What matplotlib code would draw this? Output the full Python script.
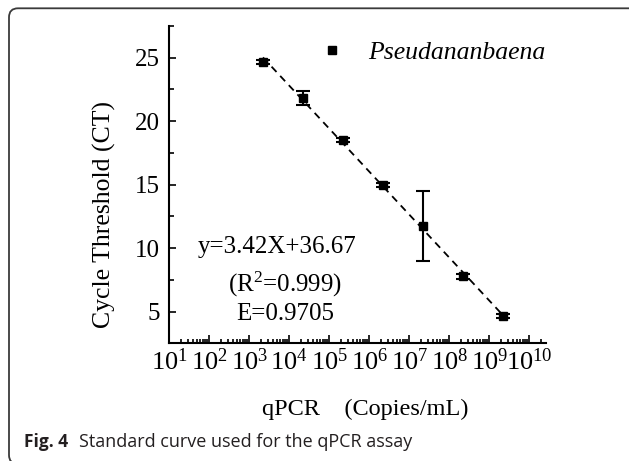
import numpy as np
import matplotlib
matplotlib.use("Agg")
import matplotlib.pyplot as plt
from matplotlib.lines import Line2D
from matplotlib.patches import FancyBboxPatch
from matplotlib.transforms import IdentityTransform
from matplotlib.ticker import MultipleLocator, LogLocator, NullFormatter, FixedLocator

# Standard-curve data: template copies per mL vs. mean cycle threshold (± SD)
copies = [2.2e3, 2.2e4, 2.2e5, 2.2e6, 2.2e7, 2.2e8, 2.2e9]
ct_mean = [24.65, 21.8, 18.5, 14.95, 11.75, 7.78, 4.65]
ct_sd = [0.15, 0.56, 0.15, 0.15, 2.78, 0.2, 0.12]

series_name = "Pseudananbaena"
fit_lines = ["y=3.42X+36.67", "(R$^{2}$=0.999)", "E=0.9705"]
x_label = "qPCR    (Copies/mL)"
y_label = "Cycle Threshold (CT)"
caption_bold = "Fig. 4"
caption_text = "Standard curve used for the qPCR assay"
x_decades = list(range(1, 11))
y_ticks = [5, 10, 15, 20, 25]

plt.rcParams["font.family"] = ["Liberation Serif", "DejaVu Serif"]
plt.rcParams["mathtext.fontset"] = "custom"
plt.rcParams["mathtext.rm"] = "Liberation Serif"
plt.rcParams["mathtext.it"] = "Liberation Serif:italic"
plt.rcParams["mathtext.bf"] = "Liberation Serif:bold"

W, H = 629, 461
fig = plt.figure(figsize=(W / 100, H / 100), dpi=100)


def fx(px):
    return px / W


def fy(py):
    return 1 - py / H


ax = fig.add_axes([fx(169.3), fy(343.3), fx(546) - fx(169.3), fy(26) - fy(343.3)])

# data with error bars
ax.errorbar(copies, ct_mean, yerr=ct_sd, fmt="s", color="black", ms=5.3,
            capsize=4.7, elinewidth=1.5, capthick=1.5, zorder=3)

# linear fit of Ct against log10(copies)
coef = np.polyfit(np.log10(copies), ct_mean, 1)
x_fit = np.array([copies[0], copies[-1]])
ax.plot(x_fit, np.polyval(coef, np.log10(x_fit)), color="black", lw=1.3,
        ls=(0, (4, 3)), zorder=2)

# axes
ax.set_xscale("log")
ax.set_xlim(10, 10 ** 10.42)
ax.set_ylim(2.5, 27.5)
ax.xaxis.set_major_locator(FixedLocator([10.0 ** d for d in x_decades]))
ax.xaxis.set_minor_locator(LogLocator(base=10, subs=np.arange(2, 10), numticks=50))
ax.xaxis.set_minor_formatter(NullFormatter())
ax.yaxis.set_major_locator(FixedLocator(y_ticks))
ax.yaxis.set_minor_locator(MultipleLocator(2.5))

for s in ("top", "right"):
    ax.spines[s].set_visible(False)
for s in ("left", "bottom"):
    ax.spines[s].set_linewidth(1.5)

ax.tick_params(axis="both", which="both", direction="in", width=1.2)
ax.tick_params(axis="y", which="major", length=5, labelsize=18, pad=7)
ax.tick_params(axis="y", which="minor", length=3.6)
ax.tick_params(axis="x", which="major", length=5.5, labelsize=19, pad=4)
ax.tick_params(axis="x", which="minor", length=3)

ax.set_ylabel(y_label, fontsize=18.5)
ax.yaxis.set_label_coords(-0.172, 0.405)
ax.yaxis.label.set_va("center")

ax.set_xlabel(x_label, fontsize=17.5)
ax.xaxis.set_label_coords(0.52, -0.226)
ax.xaxis.label.set_va("baseline")

# legend
proxy = Line2D([], [], marker="s", ls="none", color="black", ms=5.3)
ax.legend([proxy], [series_name], loc="center left",
          bbox_to_anchor=(fx(319.2), fy(52.3)), bbox_transform=fig.transFigure,
          frameon=False, borderpad=0, borderaxespad=0, handlelength=1.0,
          handletextpad=0.9, prop={"family": "Liberation Serif", "style": "italic", "size": 18.5})

# fit equation
for txt, cx, base in zip(fit_lines, [277, 285, 285], [253.3, 291.7, 320.0]):
    fig.text(fx(cx), fy(base), txt, ha="center", va="baseline", fontsize=18)

# rounded frame around the figure panel
frame = FancyBboxPatch((9, -3), 700, H - 8.3 + 3, boxstyle="round,pad=0,rounding_size=9",
                       transform=IdentityTransform(), fill=False, ec="#3a3a3a", lw=1.3)
fig.add_artist(frame)

# caption
fig.text(fx(24), fy(446.7), caption_bold, ha="left", va="baseline", fontsize=12.5,
         family="Open Sans", weight="bold", color="#231f20")
fig.text(fx(79), fy(446.7), caption_text, ha="left", va="baseline", fontsize=13,
         family="Open Sans", color="#231f20")

fig.savefig("out.png", dpi=100)
